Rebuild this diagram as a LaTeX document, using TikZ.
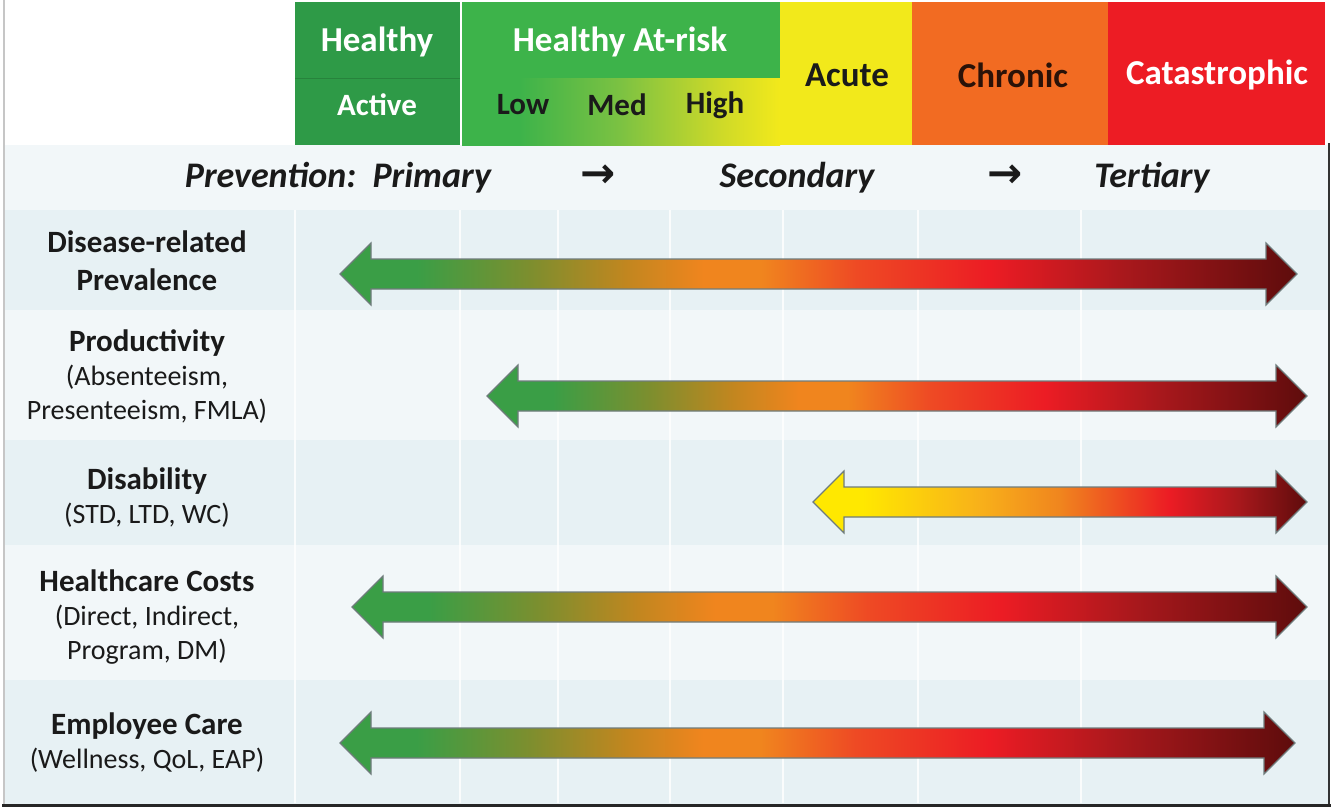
\documentclass[tikz,border=0pt]{standalone}
\usepackage{fontspec}
\setmainfont{Carlito}
\newfontfamily\frecce{DejaVu Sans}

% Colori dei livelli di rischio
\definecolor{verdeScuro}{HTML}{2E9A47}
\definecolor{verdeMedio}{HTML}{3DB34A}
\definecolor{verdeChiaro}{HTML}{7CC242}
\definecolor{lime}{HTML}{CFDA28}
\definecolor{giallo}{HTML}{F2E91B}
\definecolor{arancio}{HTML}{F26B22}
\definecolor{rosso}{HTML}{ED1C24}
% Colori delle frecce
\definecolor{fVerde}{HTML}{3A9E46}
\definecolor{fOliva}{HTML}{7E8E2E}
\definecolor{fOcra}{HTML}{C2861F}
\definecolor{fArancio}{HTML}{F0851E}
\definecolor{fRossoA}{HTML}{EE4A24}
\definecolor{fRosso}{HTML}{EC1C24}
\definecolor{fBordeaux}{HTML}{A8181C}
\definecolor{fScuro}{HTML}{5E0C0C}
\definecolor{fGiallo}{HTML}{FFE800}
\definecolor{fOro}{HTML}{F8B01A}
% Sfondi e testo
\definecolor{rigaA}{HTML}{E7F1F4}
\definecolor{rigaB}{HTML}{F2F7F9}
\definecolor{bordo}{HTML}{6F7C7C}
\definecolor{testo}{HTML}{1A1A1A}
\definecolor{marrone}{HTML}{2A1208}

% Sfumature orizzontali (TikZ usa la fascia 25bp--75bp)
\pgfdeclarehorizontalshading{rischio}{100bp}{color(0bp)=(fVerde); color(29bp)=(fVerde);
  color(35bp)=(fOliva); color(40bp)=(fOcra); color(44bp)=(fArancio); color(47bp)=(fArancio);
  color(52bp)=(fRossoA); color(59bp)=(fRosso); color(66bp)=(fBordeaux); color(75bp)=(fScuro);
  color(100bp)=(fScuro)}
\pgfdeclarehorizontalshading{rischioGiallo}{100bp}{color(0bp)=(fGiallo); color(30bp)=(fGiallo);
  color(42bp)=(fOro); color(50bp)=(fArancio); color(61bp)=(fRosso); color(68bp)=(fBordeaux);
  color(75bp)=(fScuro); color(100bp)=(fScuro)}
\pgfdeclarehorizontalshading{atrisk}{100bp}{color(0bp)=(verdeMedio); color(34bp)=(verdeMedio);
  color(50bp)=(verdeChiaro); color(66bp)=(lime); color(75bp)=(giallo); color(100bp)=(giallo)}

\tikzset{
  titolo/.style={font=\fontsize{35}{40}\selectfont\bfseries},
  livello/.style={font=\fontsize{31}{36}\selectfont\bfseries},
  prevenzione/.style={font=\fontsize{36}{40}\selectfont\bfseries\itshape, text=testo},
  passo/.style={font=\frecce\bfseries\fontsize{42}{44}\selectfont, text=testo},
  voce/.style={align=center, text=testo, font=\fontsize{28}{34}\selectfont},
  freccia/.style={draw=bordo, line width=1.2pt, line join=miter},
  griglia/.style={white, line width=2pt, opacity=0.8},
}

\begin{document}
\begin{tikzpicture}[x=1pt, y=-1pt]
    \useasboundingbox (0,0) rectangle (1332,808);
    \fill[white] (0,0) rectangle (1332,808);

    % Fasce delle righe
    \fill[rigaB] (3,145) rectangle (1329,210);
    \fill[rigaA] (3,210) rectangle (1329,310);
    \fill[rigaB] (3,310) rectangle (1329,440);
    \fill[rigaA] (3,440) rectangle (1329,545);
    \fill[rigaB] (3,545) rectangle (1329,680);
    \fill[rigaA] (3,680) rectangle (1329,804);

    % Griglia verticale
    \foreach \x in {295,460,558,670,783,918,1081}
        \draw[griglia] (\x,210) -- (\x,803);

    % Intestazione: livelli di rischio
    \fill[verdeScuro] (295,2) rectangle (460,145);
    \draw[verdeScuro!85!black, line width=0.6pt] (295,78) -- (460,78);
    \fill[verdeMedio] (462,2) rectangle (780,78);
    \shade[shading=atrisk] (462,78) rectangle (780,145);
    \fill[giallo] (780,2) rectangle (912,145);
    \fill[arancio] (912,2) rectangle (1108,145);
    \fill[rosso] (1108,2) rectangle (1325,145);

    \node[titolo, text=white] (healthy) at (377,42) {Healthy};
    \node[livello, text=white] (active) at (377,105) {Active};
    \node[titolo, text=white] (atrisk) at (620,42) {Healthy At-risk};
    \node[livello, text=testo] (low) at (523,105) {Low};
    \node[livello, text=testo] (med) at (617,105) {Med};
    \node[livello, text=testo] (high) at (715,105) {High};
    \node[titolo, text=testo] (acute) at (847,75) {Acute};
    \node[titolo, text=marrone] (chronic) at (1013,75) {Chronic};
    \node[titolo, text=white] (catastrophic) at (1217,75) {Catastrophic};

    % Prevenzione
    \node[prevenzione] (primary) at (338,178) {Prevention:\ \ Primary};
    \node[passo] (fr1) at (598,176) {→};
    \node[prevenzione] (secondary) at (797,178) {Secondary};
    \node[passo] (fr2) at (1005,176) {→};
    \node[prevenzione] (tertiary) at (1152,178) {Tertiary};

    % Voci delle righe
    \node[voce, font=\fontsize{31}{38}\selectfont\bfseries] (prevalence) at (147,261)
        {Disease-related\\Prevalence};
    \node[voce] (productivity) at (147,377)
        {{\fontsize{31}{34}\selectfont\bfseries Productivity}\\(Absenteeism,\\Presenteeism, FMLA)};
    \node[voce] (disability) at (147,498)
        {{\fontsize{31}{34}\selectfont\bfseries Disability}\\(STD, LTD, WC)};
    \node[voce] (costs) at (147,617)
        {{\fontsize{31}{34}\selectfont\bfseries Healthcare Costs}\\(Direct, Indirect,\\Program, DM)};
    \node[voce] (care) at (147,743)
        {{\fontsize{31}{34}\selectfont\bfseries Employee Care}\\(Wellness, QoL, EAP)};

    % Frecce doppie sfumate
    \foreach \xa/\xb/\yc/\sh in {340/1297/274/rischio, 487/1307/396/rischio,
                                 813/1307/502/rischioGiallo, 352/1307/607/rischio,
                                 340/1295/743/rischio}
        \shade[freccia, shading=\sh] (\xa,\yc) -- ++(31,-31) -- ++(0,16)
            -- ({\xb-31},{\yc-15}) -- ++(0,-16) -- (\xb,\yc) -- ++(-31,31) -- ++(0,-16)
            -- ({\xa+31},{\yc+15}) -- ++(0,16) -- cycle;

    % Cornice
    \draw[gray!45, line width=2pt] (3.5,0) -- (3.5,805);
    \draw[black!80, line width=2pt] (1329,143) -- (1329,805);
    \draw[black!85, line width=3pt] (2,805) -- (1330.5,805);
\end{tikzpicture}
\end{document}
